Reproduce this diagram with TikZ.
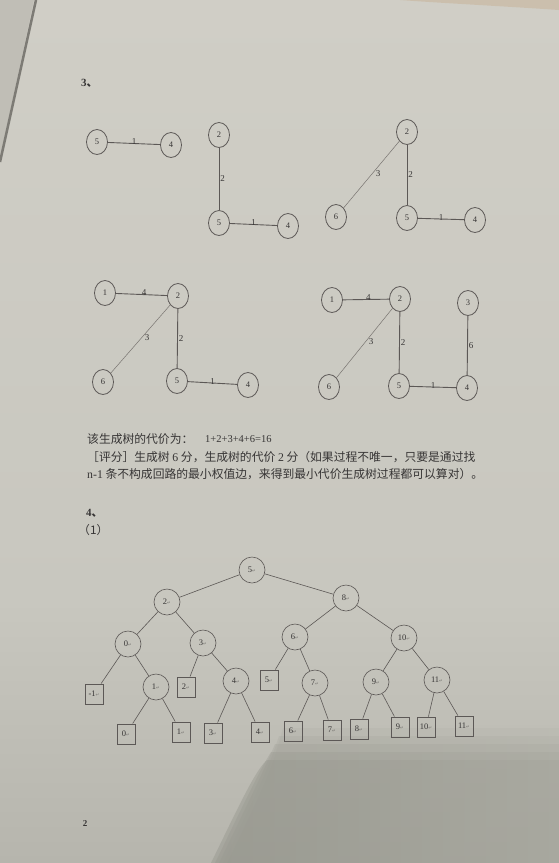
\documentclass[tikz,border=0pt]{standalone}
\usepackage{fontspec}
\setmainfont{Liberation Serif}
\newfontfamily\cjk{Noto Sans CJK SC}
\newfontfamily\symf{DejaVu Sans}
\usetikzlibrary{shapes.geometric}
\definecolor{linec}{RGB}{92,88,86}
\definecolor{linel}{RGB}{120,116,112}
\definecolor{textc}{RGB}{55,53,53}
\definecolor{retc}{RGB}{120,118,114}
\definecolor{papertop}{RGB}{208,206,198}
\definecolor{papermid}{RGB}{200,199,191}
\definecolor{paperbot}{RGB}{182,181,173}
\definecolor{behind}{RGB}{192,190,182}
\definecolor{edgeline}{RGB}{125,123,117}
\definecolor{warm}{RGB}{200,178,150}
\definecolor{shadowl}{RGB}{148,149,140}
\definecolor{shadowr}{RGB}{166,166,157}
\newcommand\retmark{{\symf\fontsize{4.5}{4.5}\selectfont\color{retc}↵}}
\begin{document}
\begin{tikzpicture}[x=1pt,y=-1pt,
  gn/.style={draw=linec, line width=0.8pt, ellipse, minimum width=21pt, minimum height=25pt, inner sep=0pt, font=\fontsize{8.5}{8.5}\selectfont, text=textc},
  ge/.style={draw=linec, line width=0.9pt},
  gd/.style={draw=linel, line width=0.5pt},
  gl/.style={font=\fontsize{9}{9}\selectfont, text=textc, inner sep=1pt},
  tc/.style={draw=linec, circle, minimum size=26pt, inner sep=0pt, line width=0.6pt, font=\fontsize{8.5}{8.5}\selectfont, text=textc},
  ts/.style={draw=linec, rectangle, minimum width=18pt, minimum height=20pt, inner sep=0pt, line width=0.9pt, font=\fontsize{8.5}{8.5}\selectfont, text=textc},
  te/.style={draw=linec, line width=0.6pt},
  txt/.style={anchor=west, inner sep=0pt, text=textc, font=\fontsize{11.8}{11.8}\selectfont\cjk},
]
\useasboundingbox (0,0) rectangle (559,863);
% paper background (photo)
\shade[top color=papertop, bottom color=papermid] (0,0) rectangle (559,600);
\shade[top color=papermid, bottom color=paperbot] (0,600) rectangle (559,863);
\fill[behind] (0,0) -- (34,0) -- (0,158) -- cycle;
\draw[line width=2.5pt, edgeline] (36,0) -- (0,162);
\fill[warm, opacity=0.5] (400,0) -- (559,0) -- (559,10) .. controls (500,6) and (440,3) .. (400,0) -- cycle;
% soft shadow at the bottom
\foreach \d/\o in {10/0.12,6/0.18,2/0.25,-2/0.35,-6/0.45} {
  \begin{scope}
    \clip (273+\d,748-2*\d) .. controls (262+\d,770) and (250+\d,795) .. (217+\d,863) -- (559,863) -- (559,748-2*\d) -- cycle;
    \shade[left color=shadowl, right color=shadowr, opacity=\o] (200,715) rectangle (559,863);
  \end{scope}
}

% heading
\node[anchor=west, inner sep=0pt, text=textc, font=\bfseries\fontsize{11}{11}\selectfont] (h3) at (81,83) {3{\cjk 、}};

% graph 1
\node[gn] (a5) at (97,142) {5};
\node[gn] (a4) at (171,145) {4};
\draw[ge] (a5) -- node[gl, above=-2.5pt, pos=0.5] {1} (a4);

% graph 2
\node[gn] (b2) at (219,135) {2};
\node[gn] (b5) at (219,223) {5};
\node[gn] (b4) at (288,226) {4};
\draw[ge] (b2) -- node[gl, right=0pt, pos=0.5] {2} (b5);
\draw[ge] (b5) -- node[gl, above=-2.5pt, pos=0.5] {1} (b4);

% graph 3
\node[gn] (c2) at (407,132) {2};
\node[gn] (c6) at (336,217) {6};
\node[gn] (c5) at (407,218) {5};
\node[gn] (c4) at (475,220) {4};
\draw[gd] (c2) -- node[gl, pos=0.48, right=2pt] {3} (c6);
\draw[ge] (c2) -- node[gl, right=0pt, pos=0.5] {2} (c5);
\draw[ge] (c5) -- node[gl, above=-2.5pt, pos=0.5] {1} (c4);

% graph 4
\node[gn] (d1) at (105,293) {1};
\node[gn] (d2) at (178,296) {2};
\node[gn] (d6) at (103,382) {6};
\node[gn] (d5) at (177,381) {5};
\node[gn] (d4) at (248,385) {4};
\draw[ge] (d1) -- node[gl, above=-2.5pt, pos=0.55] {4} (d2);
\draw[gd] (d2) -- node[gl, pos=0.48, right=2pt] {3} (d6);
\draw[ge] (d2) -- node[gl, right=0pt, pos=0.5] {2} (d5);
\draw[ge] (d5) -- node[gl, above=-2.5pt, pos=0.5] {1} (d4);

% graph 5
\node[gn] (e1) at (332,300) {1};
\node[gn] (e2) at (400,299) {2};
\node[gn] (e3) at (468,303) {3};
\node[gn] (e6) at (329,387) {6};
\node[gn] (e5) at (399,386) {5};
\node[gn] (e4) at (467,388) {4};
\draw[ge] (e1) -- node[gl, above=-2.5pt, pos=0.55] {4} (e2);
\draw[gd] (e2) -- node[gl, pos=0.48, right=2pt] {3} (e6);
\draw[ge] (e2) -- node[gl, right=0pt, pos=0.5] {2} (e5);
\draw[ge] (e3) -- node[gl, right=0pt, pos=0.5] {6} (e4);
\draw[ge] (e5) -- node[gl, above=-2.5pt, pos=0.5] {1} (e4);

% text
\node[txt] (t1a) at (87,439) {该生成树的代价为：};
\node[anchor=west, inner sep=0pt, text=textc, font=\fontsize{10.5}{10.5}\selectfont] (t1b) at (205,439) {1+2+3+4+6=16};
\node[txt] (t2) at (87,457) {［评分］生成树 {\rmfamily 6} 分，生成树的代价 {\rmfamily 2} 分（如果过程不唯一，只要是通过找};
\node[txt] (t3) at (87,474) {{\rmfamily n-1} 条不构成回路的最小权值边，来得到最小代价生成树过程都可以算对）。};
\node[anchor=west, inner sep=0pt, text=textc, font=\bfseries\fontsize{11}{11}\selectfont] (h4) at (86,513) {4{\cjk 、}};
\node[txt] (p1) at (78,530) {（1）};

% tree
\node[tc] (n5) at (252,570) {5\retmark};
\node[tc] (n2) at (167,602) {2\retmark};
\node[tc] (n8) at (346,598) {8\retmark};
\node[tc] (n0) at (128,644) {0\retmark};
\node[tc] (n3) at (203,643) {3\retmark};
\node[tc] (n6) at (295,637) {6\retmark};
\node[tc] (n10) at (404,638) {10\retmark};
\node[tc] (n1) at (156,687) {1\retmark};
\node[tc] (n4) at (236,681) {4\retmark};
\node[tc] (n7) at (315,683) {7\retmark};
\node[tc] (n9) at (376,682) {9\retmark};
\node[tc] (n11) at (437,680) {11\retmark};
\node[ts] (sm1) at (94,694) {-1\retmark};
\node[ts] (s2) at (186,687) {2\retmark};
\node[ts] (s5) at (269,680) {5\retmark};
\node[ts] (s0) at (126,734) {0\retmark};
\node[ts] (s1) at (181,732) {1\retmark};
\node[ts] (s3) at (213,733) {3\retmark};
\node[ts] (s4) at (260,732) {4\retmark};
\node[ts] (s6) at (293,731) {6\retmark};
\node[ts] (s7) at (332,730) {7\retmark};
\node[ts] (s8) at (359,729) {8\retmark};
\node[ts] (s9) at (400,727) {9\retmark};
\node[ts] (s10) at (426,727) {10\retmark};
\node[ts] (s11) at (464,726) {11\retmark};
\draw[te] (n5) -- (n2);
\draw[te] (n5) -- (n8);
\draw[te] (n2) -- (n0);
\draw[te] (n2) -- (n3);
\draw[te] (n0) -- (sm1);
\draw[te] (n0) -- (n1);
\draw[te] (n1) -- (s0);
\draw[te] (n1) -- (s1);
\draw[te] (n3) -- (s2);
\draw[te] (n3) -- (n4);
\draw[te] (n4) -- (s3);
\draw[te] (n4) -- (s4);
\draw[te] (n8) -- (n6);
\draw[te] (n8) -- (n10);
\draw[te] (n6) -- (s5);
\draw[te] (n6) -- (n7);
\draw[te] (n7) -- (s6);
\draw[te] (n7) -- (s7);
\draw[te] (n10) -- (n9);
\draw[te] (n10) -- (n11);
\draw[te] (n9) -- (s8);
\draw[te] (n9) -- (s9);
\draw[te] (n11) -- (s10);
\draw[te] (n11) -- (s11);

% page number
\node[anchor=center, inner sep=0pt, text=textc, font=\bfseries\fontsize{9}{9}\selectfont] (pg) at (85,824) {2};
\end{tikzpicture}
\end{document}
